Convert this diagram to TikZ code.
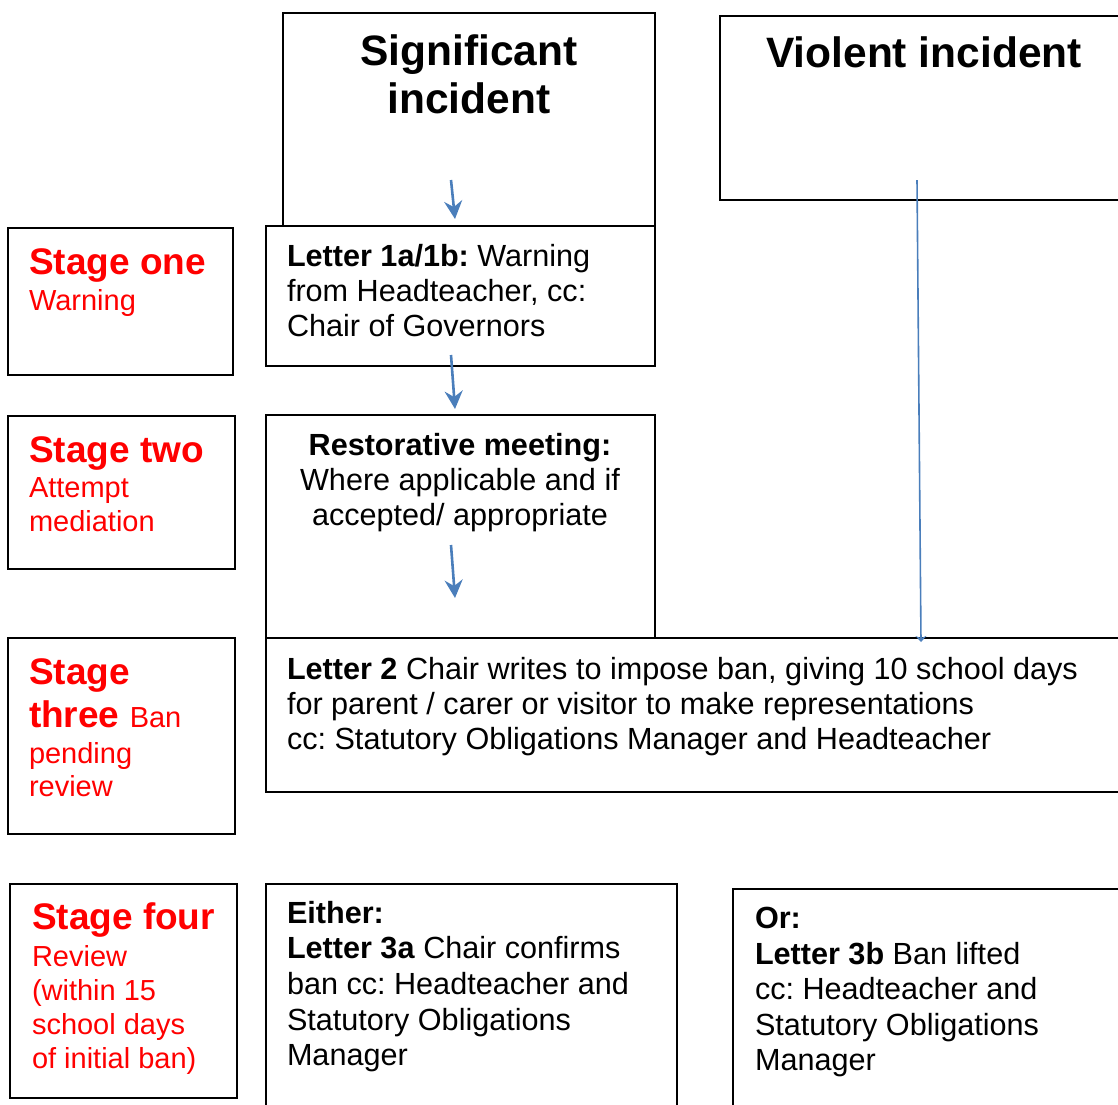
\documentclass[tikz,border=0pt]{standalone}
\usepackage{fontspec}
\setmainfont{Liberation Sans}
\usetikzlibrary{arrows.meta}
\definecolor{arrowblue}{HTML}{4A7EBB}
\frenchspacing
\begin{document}
\begin{tikzpicture}[x=1pt,y=-1pt,
  box/.style={draw=black, line width=1.8pt, inner sep=0pt, outer sep=0pt, anchor=north west},
  txt/.style={inner sep=0pt, outer sep=0pt, anchor=base west, font=\fontsize{30.6}{36}\selectfont},
  ctxt/.style={txt, anchor=base},
  bigtitle/.style={inner sep=0pt, outer sep=0pt, anchor=base, font=\bfseries\fontsize{42.5}{48}\selectfont},
  stgtitle/.style={inner sep=0pt, outer sep=0pt, anchor=base west, text=red, font=\bfseries\fontsize{37}{42}\selectfont},
  stgtxt/.style={inner sep=0pt, outer sep=0pt, anchor=base west, text=red, font=\fontsize{29}{34}\selectfont},
  arr/.style={draw=arrowblue, line width=2.6pt, -{Stealth[length=18pt, width=18pt, inset=6pt]}},
  thinarr/.style={draw=arrowblue, line width=1.6pt, -{Stealth[length=6pt, width=11pt, inset=2pt]}}
]
\clip (0,0) rectangle (1118,1104);
\useasboundingbox (0,0) rectangle (1118,1104);

% boxes
\node[box, minimum width=372pt, minimum height=213pt] (sig) at (283,13) {};
\node[box, minimum width=420pt, minimum height=184pt] (vio) at (720,16) {};
\node[box, minimum width=225pt, minimum height=147pt] (s1) at (8,228) {};
\node[box, fill=white, minimum width=389pt, minimum height=140pt] (l1) at (266,226) {};
\node[box, minimum width=227pt, minimum height=153pt] (s2) at (8,416) {};
\node[box, minimum width=389pt, minimum height=223pt] (rm) at (266,415) {};
\node[box, minimum width=227pt, minimum height=196pt] (s3) at (8,638) {};
\node[box, minimum width=870pt, minimum height=154pt] (l2) at (266,638) {};
\node[box, minimum width=227pt, minimum height=214pt] (s4) at (10,884) {};
\node[box, minimum width=411pt, minimum height=240pt] (e3) at (266,884) {};
\node[box, minimum width=400pt, minimum height=240pt] (o3) at (733,889) {};

% titles
\node[bigtitle] (sigA) at (469,65) {Significant};
\node[bigtitle] (sigB) at (469,113) {incident};
\node[bigtitle] (vioA) at (924,67) {Violent incident};

% stage one
\node[stgtitle] (s1A) at (29,274) {Stage one};
\node[stgtxt] (s1B) at (29,310) {Warning};

% letter 1a/1b
\node[txt] (l1A) at (287,266) {\textbf{Letter 1a/1b:} Warning};
\node[txt] (l1B) at (287,301) {from Headteacher, cc:};
\node[txt] (l1C) at (287,336) {Chair of Governors};

% stage two
\node[stgtitle] (s2A) at (29,462) {Stage two};
\node[stgtxt] (s2B) at (29,497) {Attempt};
\node[stgtxt] (s2C) at (29,531) {mediation};

% restorative
\node[ctxt] (rmA) at (460,455) {\textbf{Restorative meeting:}};
\node[ctxt] (rmB) at (460,490) {Where applicable and if};
\node[ctxt] (rmC) at (460,525) {accepted/ appropriate};

% stage three
\node[stgtitle] (s3A) at (29,684) {Stage};
\node[stgtitle] (s3B) at (29,727) {three {\mdseries\fontsize{29}{34}\selectfont Ban}};
\node[stgtxt] (s3C) at (29,763) {pending};
\node[stgtxt] (s3D) at (29,796) {review};

% letter 2
\node[txt] (l2A) at (287,679) {\textbf{Letter 2} Chair writes to impose ban, giving 10 school days};
\node[txt] (l2B) at (287,714) {for parent / carer or visitor to make representations};
\node[txt] (l2C) at (287,749) {cc: Statutory Obligations Manager and Headteacher};

% stage four
\node[stgtitle] (s4A) at (32,929) {Stage four};
\node[stgtxt] (s4B) at (32,966) {Review};
\node[stgtxt] (s4C) at (32,1000) {(within 15};
\node[stgtxt] (s4D) at (32,1034) {school days};
\node[stgtxt] (s4E) at (32,1068) {of initial ban)};

% either
\node[txt] (e3A) at (287,923) {\textbf{Either:}};
\node[txt] (e3B) at (287,958) {\textbf{Letter 3a} Chair confirms};
\node[txt] (e3C) at (287,994) {ban cc: Headteacher and};
\node[txt] (e3D) at (287,1030) {Statutory Obligations};
\node[txt] (e3E) at (287,1065) {Manager};

% or
\node[txt] (o3A) at (755,928) {\textbf{Or:}};
\node[txt] (o3B) at (755,964) {\textbf{Letter 3b} Ban lifted};
\node[txt] (o3C) at (755,999) {cc: Headteacher and};
\node[txt] (o3D) at (755,1035) {Statutory Obligations};
\node[txt] (o3E) at (755,1070) {Manager};

% arrows
\coordinate (a1s) at (451,180);
\coordinate (a1e) at (455,219);
\coordinate (a2s) at (451,355);
\coordinate (a2e) at (455,409);
\coordinate (a3s) at (451,545);
\coordinate (a3e) at (455,598);
\coordinate (a4s) at (917,180);
\coordinate (a4e) at (921,642);
\draw[arr] (a1s) -- (a1e);
\draw[arr] (a2s) -- (a2e);
\draw[arr] (a3s) -- (a3e);
\draw[thinarr] (a4s) -- (a4e);
\end{tikzpicture}
\end{document}
